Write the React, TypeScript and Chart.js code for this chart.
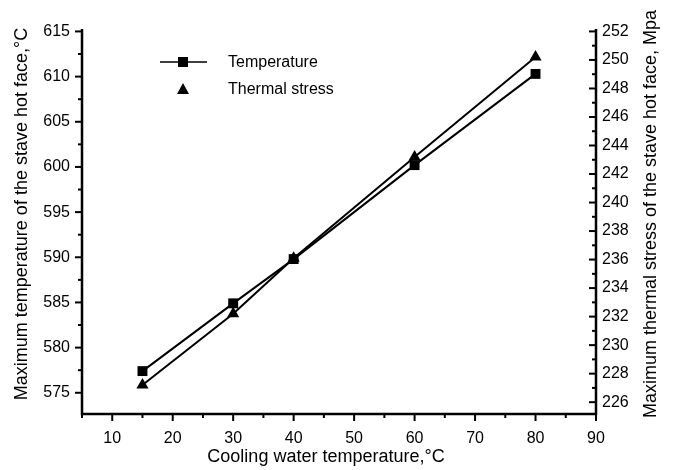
import React, { useEffect, useRef } from 'react';
import { Chart, registerables } from 'chart.js';

Chart.register(...registerables);

const waterTemp = [15, 30, 40, 60, 80];
const hotFaceTemp = [577.4, 584.9, 589.8, 600.2, 610.3];
const thermalStress = [227.2, 232.2, 236.1, 243.2, 250.2];

const xTicks = [10, 20, 30, 40, 50, 60, 70, 80, 90];
const xMinorTicks = [5, 15, 25, 35, 45, 55, 65, 75, 85];
const leftTicks = [575, 580, 585, 590, 595, 600, 605, 610, 615];
const leftMinorTicks = [577.5, 582.5, 587.5, 592.5, 597.5, 602.5, 607.5, 612.5];
const rightTicks = [226, 228, 230, 232, 234, 236, 238, 240, 242, 244, 246, 248, 250, 252];
const rightMinorTicks = [227, 229, 231, 233, 235, 237, 239, 241, 243, 245, 247, 249, 251];

const xTitle = 'Cooling water temperature,\u00b0C';
const leftTitle = 'Maximum temperature of the stave hot face,\u00b0C';
const rightTitle = 'Maximum thermal stress of the stave hot face, Mpa';
const seriesNames = ['Temperature', 'Thermal stress'];

const FONT = '"Liberation Sans", Arial, Helvetica, sans-serif';

const decorPlugin = {
  id: 'decor',
  afterDraw(chart: any) {
    const ctx = chart.ctx;
    const { x, y, y1 } = chart.scales;
    const area = chart.chartArea;
    ctx.save();
    ctx.strokeStyle = '#000';
    ctx.fillStyle = '#000';
    ctx.lineWidth = 2.5;
    // axis lines
    ctx.beginPath();
    ctx.moveTo(area.left, area.top);
    ctx.lineTo(area.left, area.bottom);
    ctx.lineTo(area.right, area.bottom);
    ctx.lineTo(area.right, area.top);
    ctx.stroke();
    ctx.lineWidth = 2;
    const line = (x0: number, y0: number, x1: number, y1p: number) => {
      ctx.beginPath();
      ctx.moveTo(x0, y0);
      ctx.lineTo(x1, y1p);
      ctx.stroke();
    };
    xTicks.forEach((v) => {
      const p = x.getPixelForValue(v);
      line(p, area.bottom, p, area.bottom + 7);
    });
    xMinorTicks.forEach((v) => {
      const p = x.getPixelForValue(v);
      line(p, area.bottom, p, area.bottom + 4);
    });
    leftTicks.forEach((v) => {
      const p = y.getPixelForValue(v);
      line(area.left - 7, p, area.left, p);
    });
    leftMinorTicks.forEach((v) => {
      const p = y.getPixelForValue(v);
      line(area.left - 4, p, area.left, p);
    });
    rightTicks.forEach((v) => {
      const p = y1.getPixelForValue(v);
      line(area.right - 7, p, area.right, p);
    });
    rightMinorTicks.forEach((v) => {
      const p = y1.getPixelForValue(v);
      line(area.right - 4, p, area.right, p);
    });

    // titles
    ctx.font = `18px ${FONT}`;
    ctx.textAlign = 'center';
    ctx.textBaseline = 'middle';
    ctx.fillText(xTitle, 326, 457);
    ctx.save();
    ctx.translate(22, 214);
    ctx.rotate(-Math.PI / 2);
    ctx.fillText(leftTitle, 0, 0);
    ctx.restore();
    ctx.save();
    ctx.translate(651, 214);
    ctx.rotate(-Math.PI / 2);
    ctx.fillText(rightTitle, 0, 0);
    ctx.restore();

    // legend
    ctx.lineWidth = 1.5;
    line(160, 62, 207, 62);
    ctx.fillRect(178, 57, 10, 10);
    ctx.beginPath();
    ctx.moveTo(183, 83);
    ctx.lineTo(189, 94);
    ctx.lineTo(177, 94);
    ctx.closePath();
    ctx.fill();
    ctx.font = `16px ${FONT}`;
    ctx.textAlign = 'left';
    ctx.textBaseline = 'middle';
    ctx.fillText(seriesNames[0], 228, 63);
    ctx.fillText(seriesNames[1], 228, 90);
    ctx.restore();
  },
};

export default function App() {
  const ref = useRef<HTMLCanvasElement>(null);
  useEffect(() => {
    document.body.style.margin = '0';
    const canvas = ref.current!;
    const tickFont = { family: FONT, size: 16 };
    const chart = new Chart(canvas, {
      type: 'scatter',
      data: {
        datasets: [
          {
            label: seriesNames[0],
            data: waterTemp.map((v, i) => ({ x: v, y: hotFaceTemp[i] })),
            yAxisID: 'y',
            showLine: true,
            borderColor: '#000',
            backgroundColor: '#000',
            borderWidth: 2,
            pointStyle: 'rect',
            pointRadius: 7,
            pointBorderWidth: 0,
          },
          {
            label: seriesNames[1],
            data: waterTemp.map((v, i) => ({ x: v, y: thermalStress[i] })),
            yAxisID: 'y1',
            showLine: true,
            borderColor: '#000',
            backgroundColor: '#000',
            borderWidth: 2,
            pointStyle: 'triangle',
            pointRadius: 7,
            pointBorderWidth: 0,
          },
        ],
      },
      options: {
        responsive: false,
        animation: false,
        devicePixelRatio: 1,
        layout: { padding: { top: 29, left: 0, right: 0, bottom: 0 } },
        plugins: { legend: { display: false }, tooltip: { enabled: false } },
        scales: {
          x: {
            type: 'linear',
            min: 5,
            max: 90,
            grid: { display: false, drawTicks: false, tickLength: 0 },
            border: { display: false },
            ticks: { color: '#000', font: tickFont, padding: 15, maxRotation: 0 },
            afterBuildTicks: (s: any) => {
              s.ticks = xTicks.map((v) => ({ value: v }));
            },
            afterFit: (s: any) => {
              s.height = 56;
            },
          },
          y: {
            type: 'linear',
            position: 'left',
            min: 572.65,
            max: 615.27,
            grid: { display: false, drawTicks: false, tickLength: 0 },
            border: { display: false },
            ticks: { color: '#000', font: tickFont, padding: 12 },
            afterBuildTicks: (s: any) => {
              s.ticks = leftTicks.map((v) => ({ value: v }));
            },
            afterFit: (s: any) => {
              s.width = 82;
            },
          },
          y1: {
            type: 'linear',
            position: 'right',
            min: 225.17,
            max: 252.17,
            grid: { display: false, drawTicks: false, tickLength: 0 },
            border: { display: false },
            ticks: { color: '#000', font: tickFont, padding: 6 },
            afterBuildTicks: (s: any) => {
              s.ticks = rightTicks.map((v) => ({ value: v }));
            },
            afterFit: (s: any) => {
              s.width = 80;
            },
          },
        },
      },
      plugins: [decorPlugin],
    });
    return () => chart.destroy();
  }, []);
  return <canvas ref={ref} width={676} height={470} style={{ display: 'block' }} />;
}
